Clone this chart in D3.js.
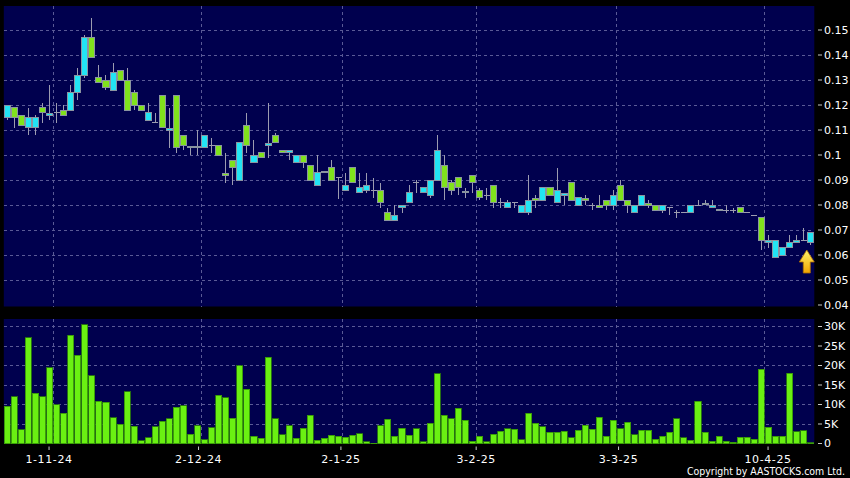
<!DOCTYPE html>
<html><head><meta charset="utf-8">
<script src="https://cdn.jsdelivr.net/npm/d3@7"></script>
<style>html,body{margin:0;padding:0;background:#000;}svg{display:block}</style>
</head><body><svg id="c" width="850" height="478"></svg>
<script>
// ---- data (trading-day index based) ----
const openP  = [.115,.119,.116,.111,.111,.119,.1160,.117,.118,.118,.125,.132,.147,.131,.130,.126,.134,.130,.125,.120,
                .114,.113,.124,.1100,.124,.108,.1036,.1036,.103,.104,.104,.0926,.098,.090,.112,.097,.101,.1040,.108,.102,
                .101,.097,.100,.096,.088,.0930,.095,.091,.086,.095,.085,.086,.086,.086,.077,.074,.079,.081,.089,.085,
                .084,.090,.096,.089,.091,.0856,.092,.086,.084,.088,.081,.079,.081,.077,.077,.0826,.082,.087,.081,.0840,
                .089,.080,.0826,.080,.080,.082,.080,.088,.082,.077,.080,.0806,.080,.078,.079,.077,.077,.077,.080,.0802,
                .079,.0784,.078,.078,.079,.077,.076,.075,.065,.059,.060,.063,.065,.066,.065];
const highP  = [.120,.119,.116,.119,.116,.121,.128,.121,.120,.128,.135,.148,.155,.136,.132,.137,.134,.135,.126,.120,
                .121,.117,.124,.119,.124,.108,.1036,.110,.108,.107,.104,.101,.098,.105,.117,.106,.101,.121,.109,.102,
                .102,.100,.100,.096,.100,.0936,.098,.091,.093,.095,.093,.093,.091,.089,.079,.080,.080,.088,.090,.087,
                .090,.108,.100,.090,.091,.087,.092,.087,.087,.088,.083,.082,.081,.080,.092,.084,.087,.087,.095,.0846,
                .089,.083,.084,.081,.084,.082,.086,.090,.082,.080,.084,.082,.080,.080,.079,.078,.077,.080,.082,.082,
                .082,.0784,.080,.079,.079,.077,.076,.075,.068,.066,.063,.068,.068,.071,.069];
const lowP   = [.114,.111,.112,.108,.108,.113,.114,.113,.116,.118,.122,.131,.139,.129,.126,.126,.130,.118,.118,.118,
                .114,.113,.111,.103,.101,.102,.100,.100,.103,.101,.100,.089,.088,.090,.101,.097,.099,.099,.105,.101,
                .098,.097,.095,.090,.088,.0930,.090,.0825,.086,.089,.085,.085,.083,.079,.074,.074,.077,.081,.085,.085,
                .083,.090,.082,.084,.084,.083,.085,.082,.082,.079,.079,.079,.079,.077,.076,.079,.082,.084,.081,.080,
                .082,.080,.080,.078,.079,.078,.078,.082,.077,.077,.080,.079,.078,.077,.076,.075,.077,.077,.080,.0802,
                .079,.078,.077,.077,.077,.077,.076,.062,.063,.059,.060,.063,.065,.066,.064];
const closeP = [.120,.115,.112,.115,.115,.117,.1168,.117,.116,.125,.132,.147,.139,.129,.127,.133,.130,.118,.120,.118,
                .117,.113,.111,.1106,.103,.104,.1030,.1030,.108,.104,.100,.0920,.095,.105,.104,.100,.099,.1046,.105,.101,
                .102,.100,.097,.090,.093,.0936,.090,.091,.088,.089,.087,.088,.086,.081,.074,.076,.080,.085,.089,.087,
                .090,.102,.087,.086,.087,.0850,.089,.083,.084,.081,.081,.081,.081,.080,.082,.0820,.087,.084,.086,.0846,
                .082,.083,.0820,.080,.079,.080,.084,.082,.080,.080,.084,.0800,.078,.080,.079,.077,.077,.080,.080,.0808,
                .080,.0778,.078,.078,.077,.077,.076,.066,.066,.066,.063,.065,.066,.066,.069];
const volumeK = [9.5,12,3.5,27.1,12.9,12,19.4,10,7.7,27.7,22.6,30.5,17.4,10.8,10.6,6.6,5,13.3,4.4,0.7,
                 1.5,4.3,5.7,6.4,9.3,9.7,2.4,4.6,1,4.1,12.4,11.7,6.5,20,13.9,1.8,1.3,22.1,6.3,2.2,
                 4.5,1.3,3.9,7.2,0.8,1.3,2.1,1.8,1.6,2.1,2.5,0.5,0.1,4.5,6.2,1.8,3.9,2.1,3.8,0.5,
                 5.2,17.9,7.3,6.3,9.1,6,0.6,1.9,0.5,2.4,3.2,3.8,3.6,1,7.7,5.2,4.3,2.9,2.9,3.2,
                 1.5,3.4,4.7,3.6,6.7,1.9,5.9,3.8,5.5,2.2,3.4,3.4,1.1,1.9,2.9,6.3,1.5,0.8,10.8,2.9,
                 0.6,1.8,0.6,0.3,1.6,1.6,1.1,19,4.2,1.9,1.9,18,3,3.3,0.2];
const days = d3.range(openP.length);               // trading-day categories
const dateTickIndex  = [7, 28, 48, 67, 87, 108];
const dateTickLabels = ["1-11-24","2-12-24","2-1-25","3-2-25","3-3-25","10-4-25"];
const priceTicks      = [0.04,0.05,0.06,0.07,0.08,0.09,0.10,0.11,0.12,0.13,0.14,0.15];
const priceTickLabels = ["0.04","0.05","0.06","0.07","0.08","0.09","0.1","0.11","0.12","0.13","0.14","0.15"];
const volTicks      = [0,5,10,15,20,25,30];
const volTickLabels = ["0","5K","10K","15K","20K","25K","30K"];

// ---- drawing ----
const svg = d3.select("#c");
svg.append("rect").attr("width",850).attr("height",478).attr("fill","#000");

const left = 3.8, right = 814.3;
const x = d3.scaleBand().domain(days).range([left,right]).paddingInner(0.14).paddingOuter(0.07);
const bw = x.bandwidth(), step = x.step();
const cx = i => x(i) + bw/2;
const gx = i => cx(i) - step/2;
const xLab = d3.scaleLinear().domain([0, days.length]).range([-0.8, -0.8 + 7.119*days.length]);

const yP = d3.scaleLinear().domain([0.04,0.15]).range([305,30]);
const yV = d3.scaleLinear().domain([0,30]).range([443.5,326.5]);

const pTop = 6, pBot = 306.5, vTop = 319, vBot = 443.5;
const navy = "#00004e";
svg.append("rect").attr("x",left).attr("y",pTop).attr("width",right-left).attr("height",pBot-pTop).attr("fill",navy);
svg.append("rect").attr("x",left).attr("y",vTop).attr("width",right-left).attr("height",vBot-vTop).attr("fill",navy);

const gridC = "#5a5a96";
const g = svg.append("g").attr("shape-rendering","crispEdges");
// horizontal grid
g.selectAll(".hp").data(priceTicks.slice(1)).join("line")
  .attr("x1",left).attr("x2",right).attr("y1",d=>yP(d)).attr("y2",d=>yP(d))
  .attr("stroke",gridC).attr("stroke-dasharray","3,3");
g.selectAll(".hv").data(volTicks.slice(1)).join("line")
  .attr("x1",left).attr("x2",right).attr("y1",d=>yV(d)).attr("y2",d=>yV(d))
  .attr("stroke",gridC).attr("stroke-dasharray","3,3");
// vertical grid
dateTickIndex.forEach(i=>{
  [[pTop,pBot],[vTop,vBot]].forEach(([a,b])=>{
    g.append("line").attr("x1",gx(i)).attr("x2",gx(i)).attr("y1",a).attr("y2",b)
      .attr("stroke",gridC).attr("stroke-dasharray","3,3");
  });
});

// candles
const cyan = "#22e4f4", green = "#80e21c", wickC = "#9c9cb0", edgeC = "#8a94a0";
const cg = svg.append("g").attr("shape-rendering","crispEdges");
days.forEach(i=>{
  const o=openP[i], c=closeP[i], h=highP[i], l=lowP[i];
  if (h>Math.max(o,c) || l<Math.min(o,c))
    cg.append("line").attr("x1",cx(i)).attr("x2",cx(i)).attr("y1",yP(h)).attr("y2",yP(l)).attr("stroke",wickC);
  if (o===c) {
    cg.append("line").attr("x1",x(i)).attr("x2",x(i)+bw).attr("y1",yP(o)).attr("y2",yP(o)).attr("stroke",wickC);
  } else {
    const top = yP(Math.max(o,c)), bot = yP(Math.min(o,c));
    cg.append("rect").attr("x",x(i)).attr("y",top).attr("width",bw).attr("height",Math.max(1.5,bot-top))
      .attr("fill", c>o ? cyan : green).attr("stroke",edgeC).attr("stroke-width",1);
  }
});

// volume bars
svg.append("g").attr("shape-rendering","crispEdges").selectAll("rect").data(days).join("rect")
  .attr("x",i=>x(i)).attr("width",bw)
  .attr("y",i=>yV(volumeK[i])).attr("height",i=>Math.max(0.5,yV(0)-yV(volumeK[i])))
  .attr("fill","#6af012").attr("stroke","#2f8a08").attr("stroke-width",0.8);

// right axes
const axC = "#c8c8c8";
const ax = svg.append("g").attr("font-family","'DejaVu Sans', Verdana, sans-serif").attr("font-size",11).attr("fill","#fff");
priceTicks.forEach((v,k)=>{
  ax.append("line").attr("x1",818).attr("x2",822).attr("y1",yP(v)).attr("y2",yP(v)).attr("stroke",axC);
  ax.append("text").attr("x",824).attr("y",yP(v)).attr("dy","0.36em").text(priceTickLabels[k]);
});
volTicks.forEach((v,k)=>{
  ax.append("line").attr("x1",818).attr("x2",822).attr("y1",yV(v)).attr("y2",yV(v)).attr("stroke",axC);
  ax.append("text").attr("x",824).attr("y",yV(v)).attr("dy","0.36em").text(volTickLabels[k]);
});
// x axis labels
dateTickIndex.forEach((i,k)=>{
  const px = xLab(i);
  ax.append("line").attr("x1",px).attr("x2",px).attr("y1",446.5).attr("y2",450).attr("stroke",axC);
  ax.append("text").attr("x",px).attr("y",462.5).attr("text-anchor","middle")
    .attr("letter-spacing","0.6").text(dateTickLabels[k]);
});
// copyright
svg.append("text").attr("x",845).attr("y",475).attr("text-anchor","end")
  .attr("font-family","'DejaVu Sans Condensed','DejaVu Sans',sans-serif").attr("font-size",10.5)
  .attr("fill","#fff").attr("textLength",158).attr("lengthAdjust","spacingAndGlyphs")
  .text("Copyright by AASTOCKS.com Ltd.");

// latest-day arrow marker
const last = days.length-1;
const ax0 = cx(last) - 4, ty = yP(lowP[last]) + 5;
const defs = svg.append("defs");
const grad = defs.append("linearGradient").attr("id","ag").attr("x1",0).attr("y1",0).attr("x2",0).attr("y2",1);
grad.append("stop").attr("offset","0%").attr("stop-color","#fff36a");
grad.append("stop").attr("offset","100%").attr("stop-color","#f0a400");
const ap = d3.path();
ap.moveTo(ax0, ty); ap.lineTo(ax0+7.5, ty+12); ap.lineTo(ax0+3.5, ty+12); ap.lineTo(ax0+3.5, ty+23);
ap.lineTo(ax0-3.5, ty+23); ap.lineTo(ax0-3.5, ty+12); ap.lineTo(ax0-7.5, ty+12); ap.closePath();
svg.append("path").attr("d",ap.toString()).attr("fill","url(#ag)").attr("stroke","#b07000").attr("stroke-width",0.8);
</script></body></html>
